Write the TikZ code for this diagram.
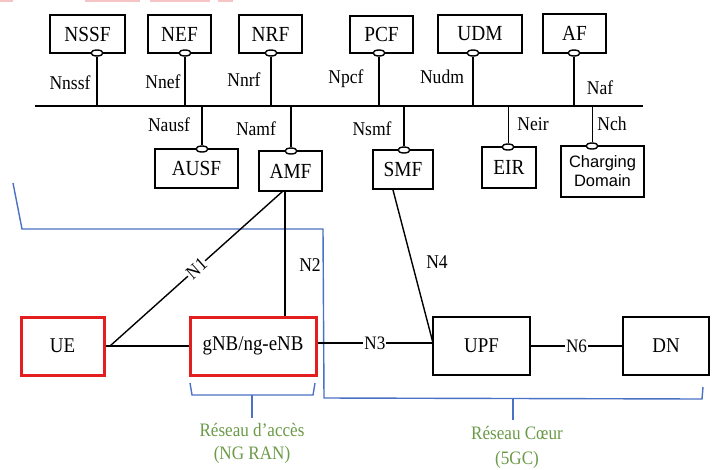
\documentclass[tikz,border=0pt]{standalone}
\usepackage{fontspec}
\setmainfont[FakeStretch=0.9]{Liberation Serif}
\newfontfamily\sansf{Liberation Sans}
\usetikzlibrary{shapes.geometric}
\definecolor{bblue}{RGB}{74,114,196}
\definecolor{ggreen}{RGB}{107,154,72}
\definecolor{rred}{RGB}{226,30,30}
\definecolor{ppink}{RGB}{246,196,196}
\begin{document}
\begin{tikzpicture}[x=1pt,y=-1pt,
 nf/.style={draw, line width=2, inner sep=0, font=\fontsize{21.5}{23}\selectfont},
 rf/.style={draw=rred, line width=3, inner sep=0, font=\fontsize{21}{23}\selectfont},
 pf/.style={draw, line width=1.6, inner sep=0, font=\fontsize{21}{23}\selectfont},
 port/.style={ellipse, draw, fill=white, line width=1.4, minimum width=12, minimum height=6, inner sep=0},
 lbl/.style={inner sep=0, font=\fontsize{19.5}{21}\selectfont},
 onl/.style={inner sep=1, fill=white, font=\fontsize{19}{21}\selectfont},
 cn/.style={line width=2},
 thin/.style={line width=1},
 mid/.style={line width=1.4},
 blu/.style={draw=bblue, line width=1.4},
 grn/.style={text=ggreen, inner sep=0, font=\fontsize{19}{21}\selectfont}
]
\useasboundingbox (0,0) rectangle (717,469);
% faint cropped marks at the top
\fill[ppink] (0,0) rectangle (13,2);
\fill[ppink] (85,0) rectangle (140,2);
\fill[ppink] (150,0) rectangle (210,2);
\fill[ppink] (218,0) rectangle (233,2);

% blue region lines
\coordinate (b1) at (13,183);
\coordinate (b2) at (22,229);
\coordinate (b3) at (323,229);
\coordinate (b4) at (324,398);
\coordinate (b5) at (702,399);
\coordinate (b6) at (703,387);
\coordinate (bt1) at (513,399);
\coordinate (bt2) at (513,420);
\draw[blu] (b1) -- (b2) -- (b3) -- (b4) -- (b5) -- (b6);
\draw[blu] (bt1) -- (bt2);
\coordinate (a1) at (190,383);
\coordinate (a2) at (192,395);
\coordinate (a3) at (313,395);
\coordinate (a4) at (315,383);
\coordinate (at1) at (252,395);
\coordinate (at2) at (252,418);
\draw[blu] (a1) -- (a2) -- (a3) -- (a4);
\draw[blu] (at1) -- (at2);

% top NFs
\node[nf, minimum width=75, minimum height=38] (nssf) at (87.5,34) {NSSF};
\node[nf, minimum width=63, minimum height=38] (nef) at (179.5,34) {NEF};
\node[nf, minimum width=63, minimum height=38] (nrf) at (270.5,34) {NRF};
\node[nf, minimum width=63, minimum height=37] (pcf) at (381.5,34.5) {PCF};
\node[nf, minimum width=84, minimum height=38] (udm) at (480,34) {UDM};
\node[nf, minimum width=63, minimum height=39] (af) at (574.5,33.5) {AF};

% bottom NFs
\node[nf, minimum width=83, minimum height=39] (ausf) at (196.5,168.5) {AUSF};
\node[nf, minimum width=63, minimum height=40] (amf) at (290.5,171) {AMF};
\node[nf, minimum width=60, minimum height=39] (smf) at (403,169.5) {SMF};
\node[nf, minimum width=54, minimum height=41] (eir) at (509,167.5) {EIR};
\node[nf, minimum width=83, minimum height=51, align=center, font=\sansf\fontsize{16.5}{19}\selectfont] (chg) at (602.5,171.5) {Charging\\Domain};

% bus
\coordinate (busL) at (35,106);
\coordinate (busR) at (643,106);
\draw[line width=2.5] (busL) -- (busR);

% ports
\node[port] (pnssf) at (97,53) {};
\node[port] (pnef) at (185,53) {};
\node[port] (pnrf) at (271,53) {};
\node[port] (ppcf) at (379,53) {};
\node[port] (pudm) at (473,53) {};
\node[port] (paf) at (574,53) {};
\node[port] (pausf) at (202,149) {};
\node[port] (pamf) at (291,151) {};
\node[port] (psmf) at (404,150) {};
\node[port] (peir) at (508,147) {};
\node[port] (pchg) at (592,146) {};

\draw[cn] (pnssf.south) -- (pnssf |- busL);
\draw[cn] (pnef.south) -- (pnef |- busL);
\draw[cn] (pnrf.south) -- (pnrf |- busL);
\draw[cn] (ppcf.south) -- (ppcf |- busL);
\draw[cn] (pudm.south) -- (pudm |- busL);
\draw[cn] (paf.south) -- (paf |- busL);
\draw[cn] (pausf.north) -- (pausf |- busL);
\draw[cn] (pamf.north) -- (pamf |- busL);
\draw[cn] (psmf.north) -- (psmf |- busL);
\draw[thin] (peir.north) -- (peir |- busL);
\draw[thin] (pchg.north) -- (pchg |- busL);

% interface labels
\node[lbl] (lnssf) at (70,83) {Nnssf};
\node[lbl] (lnef) at (163,82) {Nnef};
\node[lbl] (lnrf) at (244,80) {Nnrf};
\node[lbl] (lpcf) at (346,79) {Npcf};
\node[lbl] (ludm) at (442,77) {Nudm};
\node[lbl] (laf) at (600,88) {Naf};
\node[lbl] (lausf) at (169,125) {Nausf};
\node[lbl] (lamf) at (256,129) {Namf};
\node[lbl] (lsmf) at (372,129) {Nsmf};
\node[lbl] (leir) at (533,124) {Neir};
\node[lbl] (lch) at (612,124) {Nch};

% access / core
\node[rf, minimum width=83, minimum height=58] (ue) at (62.5,346) {UE};
\node[rf, minimum width=126, minimum height=58] (gnb) at (253,346) {gNB/ng-eNB};
\node[pf, minimum width=97, minimum height=58] (upf) at (481.5,346) {UPF};
\node[pf, minimum width=86, minimum height=58] (dn) at (666,346) {DN};

\coordinate (uej) at (110,346);
\coordinate (amfb) at (283,191);
\coordinate (amfv) at (285,191);
\coordinate (upfj) at (433,343);
\coordinate (smfb) at (393,190);

\draw[cn] (ue.east |- uej) -- (gnb.west |- uej);
\draw[mid] (uej) -- node[onl, sloped] {N1} (amfb);
\draw[cn] (amfv) -- (amfv |- gnb.north);
\node[lbl] (ln2) at (310,265) {N2};
\draw[cn] (gnb.east |- upfj) -- node[onl] {N3} (upf.west |- upfj);
\draw[mid] (smfb) -- (upfj);
\node[lbl] (ln4) at (437,262) {N4};
\draw[cn] (upf.east) -- node[onl] {N6} (dn.west);

% region labels
\node[grn] (ran1) at (252,430) {Réseau d’accès};
\node[grn] (ran2) at (252,455) {(NG RAN)};
\node[grn] (core1) at (517,433) {Réseau Cœur};
\node[grn] (core2) at (517,460) {(5GC)};
\end{tikzpicture}
\end{document}
